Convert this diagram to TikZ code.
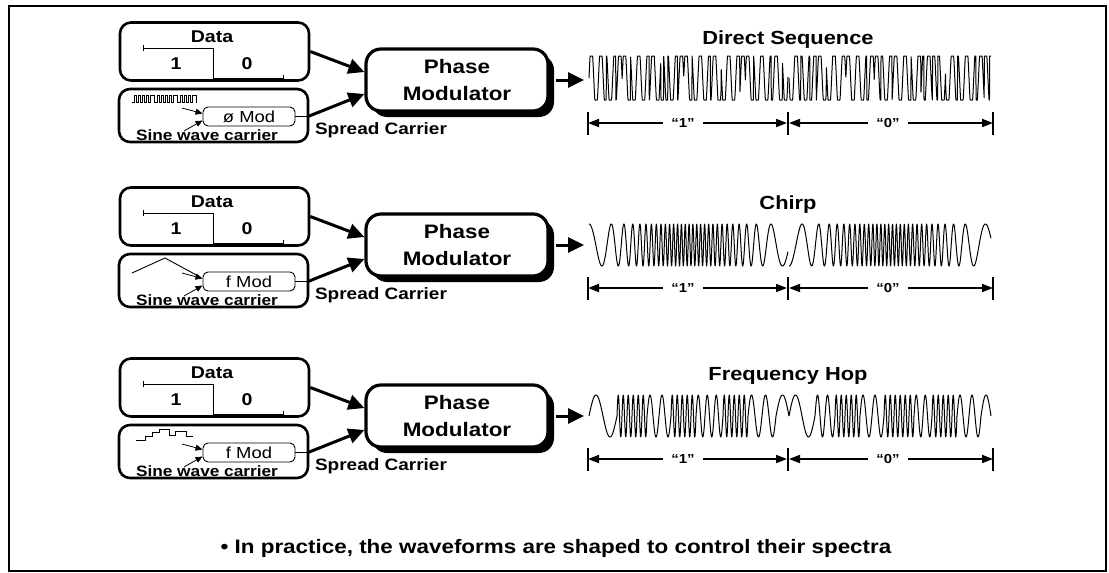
\documentclass[tikz,border=0pt]{standalone}
\usepackage{fontspec}
\setmainfont{Liberation Sans}[FakeStretch=1.15]
\usetikzlibrary{arrows.meta,calc,shadows}
\tikzset{
  thinline/.style={line width=0.9pt},
  wave/.style={line width=1pt, line join=round},
  databox/.style={draw, line width=2.6pt, rounded corners=11pt, minimum width=189pt, minimum height=58pt, inner sep=0pt},
  carbox/.style={draw, line width=2.6pt, rounded corners=11pt, minimum width=189pt, minimum height=53pt, inner sep=0pt},
  modbox/.style={draw, line width=0.9pt, rounded corners=5pt, minimum width=92pt, minimum height=19pt, inner sep=0pt, fill=white, font=\fontsize{16}{16}\selectfont},
  pmbox/.style={draw, line width=3.2pt, rounded corners=15pt, minimum width=182pt, minimum height=62pt, inner sep=0pt, align=center, fill=white, font=\fontsize{19.5}{27}\selectfont\bfseries, general shadow={fill=black, shadow xshift=6pt, shadow yshift=-6pt}},
  lbl/.style={inner sep=0pt, font=\fontsize{17}{18}\selectfont\bfseries},
  small/.style={inner sep=0pt, font=\fontsize{15}{16}\selectfont\bfseries},
  ttl/.style={inner sep=0pt, font=\fontsize{19}{20}\selectfont\bfseries},
  sc/.style={inner sep=0pt, font=\fontsize{16.5}{18}\selectfont\bfseries},
  dimlbl/.style={inner sep=0pt, font=\fontsize{13}{14}\selectfont\bfseries},
  bigarrow/.style={line width=3pt, -{Triangle[length=16pt,width=15pt]}},
  smallarrow/.style={line width=0.8pt, -{Triangle[length=7pt,width=6pt]}},
  dimarrow/.style={line width=1.8pt, -{Triangle[length=11pt,width=8pt]}},
  tickline/.style={line width=2.4pt},
}
\newcommand\mkrow[5]{%
\begin{scope}[shift={(0,#2)}]
  \node[databox] (data#1) at (214.5,51.5) {};
  \node[lbl] (dlab#1) at (212,37) {Data};
  \node[lbl] (one#1) at (176,64) {1};
  \node[lbl] (zero#1) at (247,64) {0};
  \draw[thinline] (143,48) -- (213,48) -- (213,78) -- (283,78);
  \draw[thinline] (143,45) -- (143,51);
  \draw[thinline] (283,75) -- (283,81);
  \node[carbox] (car#1) at (213.5,115.5) {};
  \node[modbox] (mod#1) at (249,116.5) {#3};
  \node[small] (swc#1) at (207,135.5) {Sine wave carrier};
  \coordinate (ia#1) at (182,108);
  \coordinate (ib#1) at (184,131);
  \draw[smallarrow] (ia#1) -- ($(mod#1.west)+(0,-3)$);
  \draw[smallarrow] (ib#1) -- ($(mod#1.west)+(0,4)$);
  \coordinate (ce#1) at (308,116.5);
  \draw[thinline] (mod#1.east) -- (ce#1);
  \node[pmbox] (pm#1) at (457,80) {Phase\\Modulator};
  \node[sc] (spc#1) at (381,130) {Spread Carrier};
  \draw[bigarrow] (data#1.east) -- ($(pm#1.west)+(0,-8)$);
  \draw[bigarrow] (ce#1) -- ($(pm#1.west)+(0,14)$);
  \coordinate (out#1) at (584,80);
  \draw[bigarrow] ($(pm#1.east)+(6,0)$) -- (out#1);
  \node[ttl] (ttl#1) at (788,40) {#4};
  \node[dimlbl] (la#1) at (683,123) {“1”};
  \node[dimlbl] (lb#1) at (888,123) {“0”};
  \coordinate (ta#1) at (588,123);
  \coordinate (tb#1) at (788,123);
  \coordinate (tc#1) at (993,123);
  \draw[tickline] (588,112) -- (588,135);
  \draw[tickline] (788,112) -- (788,135);
  \draw[tickline] (993,112) -- (993,135);
  \draw[dimarrow] ($(la#1.west)+(-8,0)$) -- (ta#1);
  \draw[dimarrow] ($(la#1.east)+(8,0)$) -- ($(tb#1)+(-1,0)$);
  \draw[dimarrow] ($(lb#1.west)+(-8,0)$) -- ($(tb#1)+(1,0)$);
  \draw[dimarrow] ($(lb#1.east)+(8,0)$) -- (tc#1);
  #5
\end{scope}}
\begin{document}
\begin{tikzpicture}[x=1pt,y=-1pt]
\useasboundingbox (0,0) rectangle (1109,573);
\draw[line width=1.2pt] (9,6) rectangle (1106,571);

% Row 1: direct sequence
\mkrow{1}{0}{ø Mod}{Direct Sequence}{%
  \draw[thinline] (132,102) foreach \r/\f in {134/136,138/140,142/144,146/148,150/154,157/159,161/163,165/167,169/171,173/177,180/182,184/186,188/190,192/196} { -- (\r,102) -- (\r,95) -- (\f,95) -- (\f,102) } -- (197,102);
  \draw[wave] plot[domain=0:199, samples=800] ({589+\x}, {78-22*max(-1,min(1,1.5*sin(38*\x)))*((sin(15*\x)+sin(26*\x+40)+sin(9*\x+10)>0) ? 1 : -1)});
  \draw[wave] plot[domain=0:202, samples=800] ({789+\x}, {78+22*max(-1,min(1,1.5*sin(38*\x)))*((sin(14*\x+120)+sin(25*\x+200)+sin(8*\x+70)>0) ? 1 : -1)});
}

% Row 2: chirp
\mkrow{2}{165}{f Mod}{Chirp}{%
  \draw[thinline] (132,108) -- (165,93) -- (200,112);
  \draw[wave] plot[domain=0:1, samples=900] ({589+199*\x}, {80-21*cos(360*(7.1*\x + 45.2*(\x/2 - sin(360*\x)/12.566)))});
  \draw[wave] plot[domain=0:1, samples=900] ({789+202*\x}, {80+21*cos(360*(7.1*\x + 45.2*(\x/2 - sin(360*\x)/12.566)))});
}

% Row 3: frequency hop
\mkrow{3}{336}{f Mod}{Frequency Hop}{%
  \draw[thinline] (136,104) -- (145,104) -- (145,100) -- (152,100) -- (152,96) -- (159,96) -- (159,93) -- (169,93) -- (169,99) -- (175,99) -- (175,95) -- (186,95) -- (186,100) -- (193,100);
  \foreach \a/\p/\n in {589/28/2, 617/5/12, 647/12/4, 671/5/10, 696/9/6, 723/5/10, 748/14/4, 776/26/1, 789/26/2, 815/10/4, 835/5/10, 860/12/4, 884/5/12, 914/9/4, 932/5/10, 957/12/4, 981/20/1} {
    \pgfmathsetmacro\len{\p*\n/2}
    \draw[wave] plot[domain=0:\len, samples=100] ({\a+\x}, {80-21*sin(360*\x/\p)});
  }
}

\node[inner sep=0pt, font=\fontsize{19.5}{22}\selectfont\bfseries] (note) at (556,548) {\textbullet\ In practice, the waveforms are shaped to control their spectra};
\end{tikzpicture}
\end{document}
